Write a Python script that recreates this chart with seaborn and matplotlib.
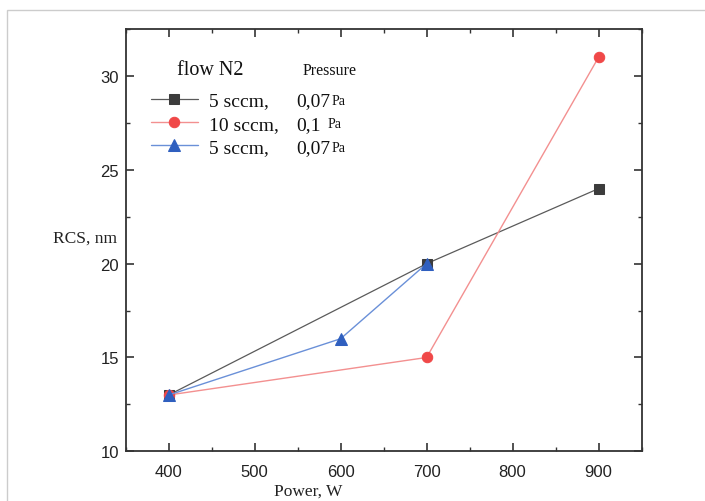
# RCS vs power for N2 flow
import matplotlib
matplotlib.use("Agg")
import matplotlib.pyplot as plt
import seaborn as sns
from matplotlib.patches import Rectangle
from matplotlib.ticker import MultipleLocator

power_sq = [400, 700, 900]
rcs_sq = [13, 20, 24]
power_ci = [400, 700, 900]
rcs_ci = [13, 15, 31]
power_tr = [400, 600, 700]
rcs_tr = [13, 16, 20]

flows = ["5 sccm,", "10 sccm,", "5 sccm,"]
pressures = ["0,07", "0,1", "0,07"]

sns.set_theme(style="ticks")
plt.rcParams["font.family"] = ["Liberation Sans", "DejaVu Sans"]
serif = ["Liberation Serif", "DejaVu Serif"]
ink = "#111111"

fig = plt.figure(figsize=(7.05, 5.02), dpi=100)
ax = fig.add_axes([0.1783, 0.099, 0.7317, 0.841])

# light frame around the plot
fig.patches.append(Rectangle((7 / 705, -0.1), 1.1, 1 - 11 / 502 + 0.1,
                             transform=fig.transFigure, fill=False,
                             edgecolor="#cccccc", linewidth=1.0))

sns.lineplot(x=power_sq, y=rcs_sq, ax=ax, color="#5a5a5a", linewidth=0.9,
             marker="s", markersize=6.5, markerfacecolor="#3c3c3c",
             markeredgecolor="#3c3c3c", label=flows[0])
sns.lineplot(x=power_ci, y=rcs_ci, ax=ax, color="#f39090", linewidth=1.0,
             marker="o", markersize=7.5, markerfacecolor="#f04848",
             markeredgecolor="#f04848", label=flows[1])
sns.lineplot(x=power_tr, y=rcs_tr, ax=ax, color="#6a90d8", linewidth=1.0,
             marker="^", markersize=8, markerfacecolor="#2f5fbf",
             markeredgecolor="#2f5fbf", label=flows[2])

ax.set_xlim(350, 950)
ax.set_ylim(10, 32.5)
ax.xaxis.set_major_locator(MultipleLocator(100))
ax.xaxis.set_minor_locator(MultipleLocator(50))
ax.yaxis.set_major_locator(MultipleLocator(5))
ax.yaxis.set_minor_locator(MultipleLocator(2.5))
ax.tick_params(which="both", direction="in", top=True, right=True,
               colors="#333333", labelcolor="#222222", labelsize=12)
ax.tick_params(which="major", length=6, width=1.2)
ax.tick_params(which="minor", length=3, width=1.0)
ax.tick_params(axis="x", pad=9)
ax.tick_params(axis="y", pad=5)
for s in ax.spines.values():
    s.set_linewidth(1.3)
    s.set_color("#333333")

ax.set_xlabel("Power, W", family=serif, fontsize=12.5, color="#222222")
ax.xaxis.set_label_coords(0.353, -0.094)
ax.xaxis.label.set_va("center")
ax.set_ylabel("RCS, nm", family=serif, fontsize=12.5, color="#222222",
              rotation=0, ha="right", va="center")
ax.yaxis.set_label_coords(-0.017, 0.507)

leg = ax.legend(loc="upper left", bbox_to_anchor=(0.034, 0.870), frameon=False,
                handlelength=2.4, handletextpad=0.56,
                labelspacing=0.3, borderaxespad=0.0,
                prop={"family": serif, "size": 14})
for t in leg.get_texts():
    t.set_color(ink)

# legend header row
ax.text(0.163, 0.904, "flow N2", transform=ax.transAxes, family=serif,
        fontsize=14.5, color=ink, ha="center", va="center")
ax.text(0.342, 0.904, "Pressure", transform=ax.transAxes, family=serif,
        fontsize=11.5, color=ink, ha="left", va="center")

# pressure column, aligned to each legend row
fig.canvas.draw()
inv = ax.transAxes.inverted()
for t, p in zip(leg.get_texts(), pressures):
    bb = t.get_window_extent()
    _, y0 = inv.transform((bb.x0, bb.y0))
    v = ax.text(0.330, y0, p, transform=ax.transAxes, family=serif,
                fontsize=14, color=ink, ha="left", va="bottom")
    vb = v.get_window_extent(renderer=fig.canvas.get_renderer())
    x1, _ = inv.transform((vb.x1, vb.y0))
    gap = 0.003 if p != "0,1" else 0.014
    ax.text(x1 + gap, y0 + 0.006, "Pa", transform=ax.transAxes, family=serif,
            fontsize=10, color=ink, ha="left", va="bottom")

fig.savefig("out.png", dpi=100)
